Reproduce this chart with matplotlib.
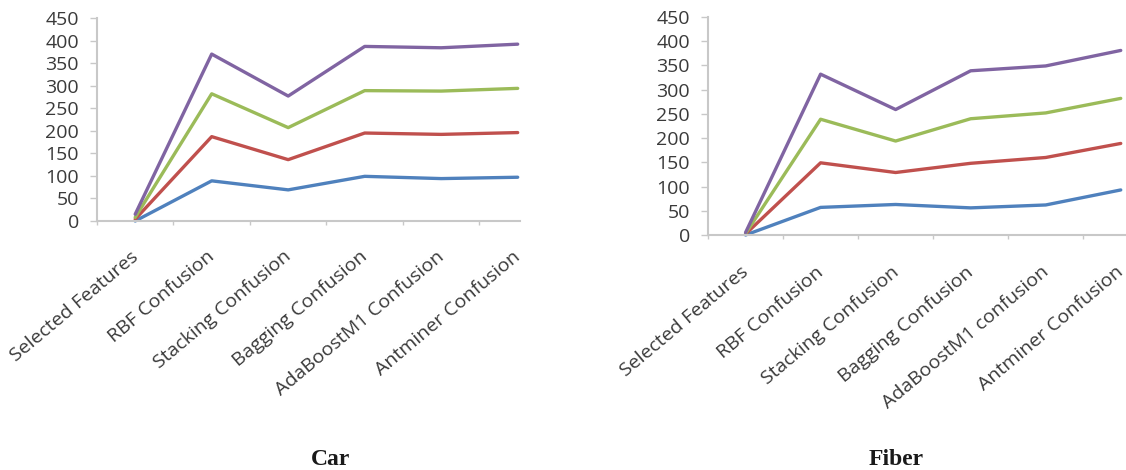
import matplotlib
matplotlib.use("Agg")
import matplotlib.pyplot as plt
from matplotlib.ticker import FixedLocator, NullFormatter

# Categories (x-axis)
car_categories = ["Selected Features", "RBF Confusion", "Stacking Confusion",
                  "Bagging Confusion", "AdaBoostM1 Confusion", "Antminer Confusion"]
fiber_categories = ["Selected Features", "RBF Confusion", "Stacking Confusion",
                    "Bagging Confusion", "AdaBoostM1 confusion", "Antminer Confusion"]

# Car panel series
car_blue = [0, 89, 69, 99, 94, 97]
car_red = [4, 187, 136, 195, 192, 196]
car_green = [8, 282, 207, 289, 288, 294]
car_purple = [15, 370, 277, 387, 384, 392]

# Fiber panel series
fiber_blue = [0, 57, 63, 56, 62, 93]
fiber_red = [2, 149, 129, 148, 160, 189]
fiber_green = [3, 239, 194, 240, 252, 282]
fiber_purple = [5, 332, 259, 339, 349, 381]

y_ticks = [0, 50, 100, 150, 200, 250, 300, 350, 400, 450]

colors = ["#4F81BD", "#C0504D", "#9BBB59", "#8064A2"]
axis_color = "#C8C8C8"
text_color = "#3A3A3A"

fig = plt.figure(figsize=(11.26, 4.70), dpi=100)
fig.patch.set_facecolor("white")

label_font = dict(family=["Open Sans", "DejaVu Sans"], size=14)


def draw_panel(rect, categories, series, title, title_x, xmax, label_dy):
    ax = fig.add_axes(rect)
    x = list(range(len(categories)))
    for vals, c in zip(series, colors):
        ax.plot(x, vals, color=c, linewidth=2.4, solid_joinstyle="round",
                solid_capstyle="round", clip_on=False)
    ax.set_xlim(-0.5, xmax)
    ax.set_ylim(0, 450)
    ax.yaxis.set_major_locator(FixedLocator(y_ticks))
    ax.set_yticklabels([str(v) for v in y_ticks], **label_font, color=text_color)
    # category boundary tick marks
    ax.xaxis.set_major_locator(FixedLocator([i - 0.5 for i in x]))
    ax.xaxis.set_major_formatter(NullFormatter())
    for i, name in enumerate(categories):
        ax.annotate(name, xy=(i, 0), xycoords=("data", "axes fraction"),
                    xytext=(0.5, label_dy), textcoords="offset points",
                    rotation=40, ha="right", va="center",
                    rotation_mode="anchor", color=text_color, **label_font)
    for side in ("top", "right"):
        ax.spines[side].set_visible(False)
    for side in ("left", "bottom"):
        ax.spines[side].set_color(axis_color)
        ax.spines[side].set_linewidth(1.5)
    ax.tick_params(axis="x", direction="out", length=3, width=1.0,
                   color=axis_color)
    ax.tick_params(axis="y", direction="out", length=5, width=1.0,
                   color=axis_color, pad=8)
    ax.set_facecolor("none")
    fig.text(title_x, 0.0, title, ha="center", va="bottom",
             family=["Liberation Serif", "DejaVu Serif"], weight="bold",
             size=17, color="#1a1a1a")
    return ax


draw_panel([0.0861, 0.5298, 0.3757, 0.4319], car_categories,
           [car_blue, car_red, car_green, car_purple], "Car", 0.294, 5.03, -24)
draw_panel([0.6288, 0.5, 0.3712, 0.4638], fiber_categories,
           [fiber_blue, fiber_red, fiber_green, fiber_purple], "Fiber", 0.796, 5.07, -25)

fig.savefig("out.png", dpi=100, facecolor="white")
